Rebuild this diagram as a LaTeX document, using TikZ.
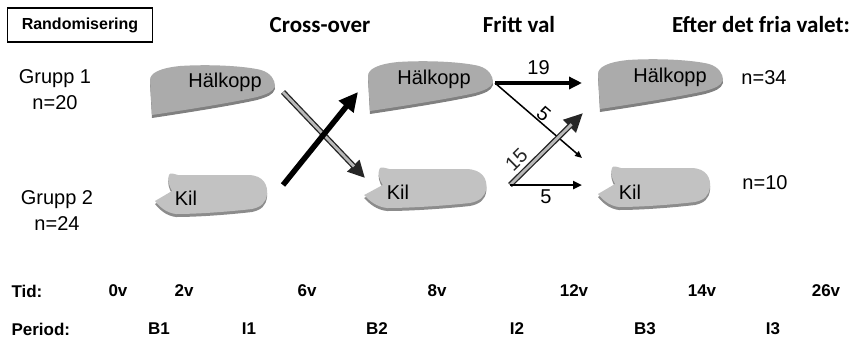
\documentclass[tikz,border=0pt]{standalone}
\usepackage{fontspec}
\setmainfont{Liberation Sans}
\newfontfamily\headfont{Carlito}
\usetikzlibrary{arrows.meta}

% insole outlines, drawn round the label centre, y runs downwards
\tikzset{
  halkopp/.pic={
    \fill[black!50] (-73,36) -- (-75,1) .. controls (-75,-6) and (-65,-11) .. (-45,-13)
      .. controls (-15,-15) and (20,-13) .. (36,-9)
      .. controls (46,-6) and (50,1) .. (50,7)
      .. controls (48,13) and (42,15) .. (32,18)
      .. controls (5,24) and (-40,31) .. cycle;
    \fill[black!33]
      (-73,33) -- (-75,-2) .. controls (-75,-9) and (-65,-14) .. (-45,-16)
      .. controls (-15,-18) and (20,-16) .. (36,-12)
      .. controls (46,-9) and (50,-2) .. (50,4)
      .. controls (48,10) and (42,12) .. (32,15)
      .. controls (5,21) and (-40,28) .. cycle;
  },
  kil/.pic={
    \fill[black!45]
      (-17,-20) .. controls (-16,-23) and (-12,-21) .. (-8,-20) -- (62,-20)
      .. controls (78,-20) and (82,-9) .. (81,-1)
      .. controls (80,8) and (75,12) .. (66,14)
      .. controls (40,17) and (10,19) .. (-10,19)
      .. controls (-20,18) and (-27,11) .. (-31,6)
      -- (-14,-4) .. controls (-17,-9) and (-19,-16) .. cycle;
    \fill[black!24]
      (-17,-23) .. controls (-16,-26) and (-12,-24) .. (-8,-23) -- (62,-23)
      .. controls (78,-23) and (82,-12) .. (81,-4)
      .. controls (80,5) and (75,9) .. (66,11)
      .. controls (40,14) and (10,16) .. (-10,16)
      .. controls (-20,15) and (-27,8) .. (-31,3)
      -- (-14,-7) .. controls (-17,-12) and (-19,-19) .. cycle;
  },
}

\begin{document}
\begin{tikzpicture}[x=1pt,y=-1pt,
    head/.style={font=\headfont\bfseries\fontsize{23}{26}\selectfont},
    lbl/.style={font=\fontsize{20}{26}\selectfont, align=center},
    row/.style={font=\bfseries\fontsize{17}{20}\selectfont},
    bigarrow/.style={line width=5.5pt, -{Triangle[length=19pt,width=18pt]}},
    grayarrow/.style={line width=5.5pt, black!85, -{Triangle[length=17pt,width=16pt]},
      postaction={draw, -, line width=2.8pt, gray!55, shorten >=16pt}}]

  \useasboundingbox (0,0) rectangle (858,338);

  % top row
  \node[draw, line width=1.6pt, minimum width=145pt, minimum height=34pt,
        font=\bfseries\fontsize{16}{18}\selectfont] (rand) at (80,25) {Randomisering};
  \node[head] (cross) at (320,25) {Cross-over};
  \node[head] (fritt) at (519,25) {Fritt val};
  \node[head] (efter) at (761,25) {Efter det fria valet:};

  % groups
  \node[lbl] (g1) at (55,90) {Grupp 1\\n=20};
  \node[lbl] (g2) at (57,211) {Grupp 2\\n=24};

  % insoles
  \pic at (225,82) {halkopp};
  \pic at (443,78) {halkopp};
  \pic at (673,76) {halkopp};
  \pic at (186,198) {kil};
  \pic[xscale=1.09] at (398,192) {kil};
  \pic at (629,191) {kil};

  \node[lbl] (h1) at (225,82) {Hälkopp};
  \node[lbl] (h2) at (434,79) {Hälkopp};
  \node[lbl] (h3) at (670,77) {Hälkopp};
  \node[lbl] (k1) at (186,198) {Kil};
  \node[lbl] (k2) at (398,192) {Kil};
  \node[lbl] (k3) at (630,192) {Kil};
  \node[lbl] (n34) at (764,78) {n=34};
  \node[lbl] (n10) at (765,183) {n=10};

  % cross-over
  \coordinate (h1e) at (283,92);
  \coordinate (k2s) at (365,178);
  \coordinate (k1e) at (283,185);
  \coordinate (h2s) at (358,92);
  \draw[grayarrow] (h1e) -- (k2s);
  \draw[bigarrow] (k1e) -- (h2s);

  % free choice
  \coordinate (h2e) at (495,83);
  \coordinate (k2e) at (510,185);
  \coordinate (h3s) at (582,83);
  \coordinate (k3s) at (582,158);
  \coordinate (h3b) at (583,113);
  \coordinate (k3b) at (582,185);
  \draw[line width=3.5pt, -{Triangle[length=13pt,width=12pt]}] (h2e) -- (h3s)
    node[lbl, midway, above=3pt] {19};
  \draw[line width=1.5pt, -{Triangle[length=7pt,width=6pt]}] (h2e) -- (k3s)
    node[lbl, pos=0.5, sloped, above=-3pt] {5};
  \draw[grayarrow, -{Triangle[length=19pt,width=17pt]}] (k2e) -- (h3b)
    node[lbl, pos=0.22, sloped, above=4pt, inner sep=0pt] {15};
  \draw[line width=2.5pt, -{Triangle[length=9pt,width=8pt]}] (k2e) -- (k3b)
    node[lbl, midway, below=3pt, inner sep=0pt] {5};

  % time line
  \node[row, anchor=west] (tid) at (8,291) {Tid:};
  \node[row] (t0) at (118,291) {0v};
  \node[row] (t2) at (184,291) {2v};
  \node[row] (t6) at (307,291) {6v};
  \node[row] (t8) at (437,291) {8v};
  \node[row] (t12) at (574,291) {12v};
  \node[row] (t14) at (702,291) {14v};
  \node[row] (t26) at (826,291) {26v};
  \node[row, anchor=west] (per) at (8,329) {Period:};
  \node[row] (b1) at (159,329) {B1};
  \node[row] (i1) at (249,329) {I1};
  \node[row] (b2) at (377,329) {B2};
  \node[row] (i2) at (517,329) {I2};
  \node[row] (b3) at (645,329) {B3};
  \node[row] (i3) at (773,329) {I3};
\end{tikzpicture}
\end{document}
